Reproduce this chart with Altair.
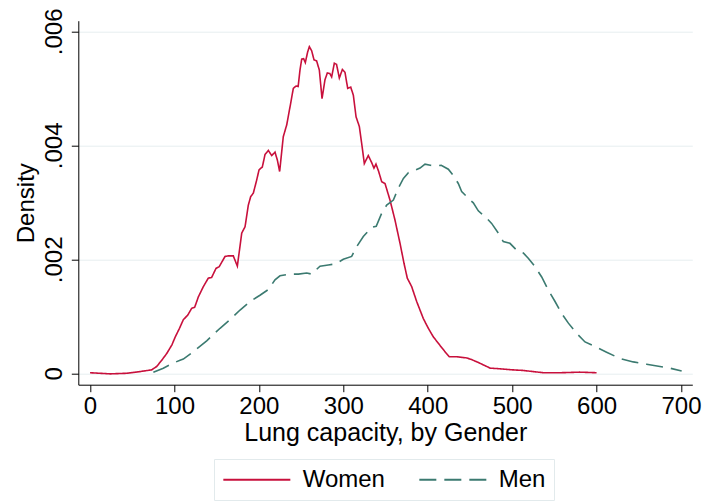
import altair as alt
import pandas as pd

# Women density curve (lung capacity, density x 1000)
women_x = [0, 12, 24, 43, 59, 73, 79, 85, 91, 97, 101, 106, 110.5, 115.7, 120.4, 124, 128.3,
           134.2, 140.1, 144, 149.2, 153, 159.9, 164, 169.7, 174.5, 179.7, 183.6, 187.5, 190.3,
           193.4, 197.4, 200.2, 204.1, 207.3, 211.2, 215.2, 219.1, 221.9, 224.6, 228.9, 233,
           237.7, 240.8, 244, 246.5, 248.7, 250.7, 253, 255, 257.8, 259.8, 262.5, 265.3, 268.4,
           271.6, 274.8, 278.3, 281.1, 284, 286.2, 289.4, 292, 295.3, 298.9, 302, 305.2, 308.8,
           311.9, 315.1, 319, 321.8, 324.9, 329.6, 333.5, 336.3, 338.7, 341.9, 345.5, 349.4,
           355.3, 361.2, 367.2, 371.9, 375.8, 381, 386.9, 394.8, 400.7, 406.6, 414.5, 420.4,
           425.6, 434.3, 446.1, 452, 459.9, 467, 474, 485, 501, 513, 525, 537, 557, 580, 600]
women_y = [0.01, 0.0, -0.01, 0.0, 0.03, 0.06, 0.12, 0.23, 0.35, 0.50, 0.64, 0.79, 0.94, 1.02,
           1.14, 1.16, 1.34, 1.52, 1.67, 1.68, 1.84, 1.87, 2.05, 2.06, 2.06, 1.88, 2.46, 2.57,
           2.95, 3.10, 3.16, 3.39, 3.57, 3.62, 3.84, 3.91, 3.82, 3.88, 3.74, 3.54, 4.15, 4.36,
           4.74, 5.00, 5.04, 5.03, 5.32, 5.51, 5.52, 5.45, 5.64, 5.73, 5.66, 5.50, 5.48, 5.32,
           4.82, 5.15, 5.27, 5.26, 5.20, 5.44, 5.42, 5.18, 5.33, 5.28, 5.00, 5.02, 4.88, 4.50,
           4.33, 4.03, 3.68, 3.82, 3.70, 3.60, 3.67, 3.54, 3.36, 3.33, 3.04, 2.69, 2.28, 1.93,
           1.67, 1.52, 1.26, 0.96, 0.79, 0.64, 0.49, 0.38, 0.29, 0.29, 0.27, 0.24, 0.19, 0.14,
           0.09, 0.08, 0.06, 0.05, 0.03, 0.01, 0.01, 0.02, 0.01]

# Men density curve (lung capacity, density x 1000)
men_x = [75, 86.8, 98.7, 106.6, 110.5, 122.4, 138.2, 154, 165.8, 177.7, 189.5, 201.3, 211.2,
         219.1, 225, 236.9, 246.7, 256.6, 262.5, 272.4, 282.2, 291, 300, 309.9, 315.8, 323.7,
         333.6, 339, 345.5, 351.4, 359.3, 365.2, 371.2, 377.1, 383, 390.9, 396.8, 403, 410.6,
         416, 424.4, 430.3, 436.2, 440.2, 448.1, 454, 459.9, 469.8, 475.7, 483.6, 489.5, 497.4,
         505.3, 513.2, 519.1, 527.1, 535, 542.9, 550.8, 558.7, 566.6, 576.4, 586.3, 598.1,
         611.9, 627.7, 643.5, 659.3, 675.1, 687, 700.8]
men_y = [0.02, 0.09, 0.18, 0.23, 0.25, 0.38, 0.57, 0.79, 0.94, 1.11, 1.26, 1.37, 1.47, 1.64,
         1.71, 1.74, 1.74, 1.76, 1.74, 1.88, 1.90, 1.92, 2.00, 2.05, 2.22, 2.40, 2.56, 2.58,
         2.81, 2.95, 3.04, 3.25, 3.42, 3.52, 3.55, 3.60, 3.67, 3.65, 3.64, 3.65, 3.58, 3.47,
         3.33, 3.19, 3.07, 2.99, 2.85, 2.72, 2.63, 2.46, 2.31, 2.28, 2.16, 2.11, 2.02, 1.87,
         1.69, 1.46, 1.26, 1.05, 0.88, 0.70, 0.55, 0.47, 0.37, 0.26, 0.20, 0.16, 0.12, 0.09,
         0.04]

groups = ["Women", "Men"]
colors = ["#c8103c", "#3b7a70"]
x_ticks = [0, 100, 200, 300, 400, 500, 600, 700]
y_ticks = [0, 0.002, 0.004, 0.006]

df = pd.concat([
    pd.DataFrame({"x": women_x, "y": [v / 1000 for v in women_y], "g": "Women"}),
    pd.DataFrame({"x": men_x, "y": [v / 1000 for v in men_y], "g": "Men"}),
])

FONT = "Liberation Sans"

legend = alt.Legend(
    title=None, orient="none", legendX=135.7, legendY=438.3, direction="horizontal",
    columns=2, columnPadding=30, padding=8, strokeColor="#e2eaec", fillColor="white",
    cornerRadius=0, symbolType="M-1,0H5", symbolSize=499, symbolStrokeWidth=2,
    symbolFillColor="transparent",
    labelFontSize=24, labelFont=FONT, labelColor="black", labelOffset=55.7,
    labelLimit=300,
)

chart = alt.Chart(df).mark_line(strokeWidth=1.6).encode(
    x=alt.X("x:Q", scale=alt.Scale(domain=[-13.9, 713.4], nice=False, zero=False),
            axis=alt.Axis(values=x_ticks, title="Lung capacity, by Gender", grid=False,
                          tickSize=7, labelBaseline="top", labelPadding=3,
                          titleX=307, titleY=56, titleBaseline="alphabetic",
                          titleFontSize=25, titleAnchor="middle")),
    y=alt.Y("y:Q", scale=alt.Scale(domain=[-0.0002, 0.006186], nice=False, zero=False),
            axis=alt.Axis(values=y_ticks, title="Density", grid=True, gridColor="#e6eef0",
                          tickSize=7, labelAngle=270, labelAlign="center",
                          labelBaseline="alphabetic", labelPadding=10,
                          labelExpr="datum.value == 0 ? '0' : replace(format(datum.value, '.3f'), '0.', '.')",
                          titleAngle=270, titleX=-45.3, titleY=182, titleAlign="center",
                          titleBaseline="alphabetic", titleFontSize=24)),
    color=alt.Color("g:N", scale=alt.Scale(domain=groups, range=colors), legend=legend),
    strokeDash=alt.StrokeDash("g:N", scale=alt.Scale(domain=groups, range=[[1, 0], [17, 8]]),
                              legend=legend),
).properties(
    width=614, height=364,
    autosize=alt.AutoSizeParams(type="none"),
    padding={"left": 78.3, "top": 20.7, "right": 13.7, "bottom": 117.3},
    background="white",
).configure_view(stroke=None).configure_axis(
    labelFont=FONT, titleFont=FONT, labelFontSize=24, labelColor="black", titleColor="black",
    domainColor="black", tickColor="black", domainWidth=1, tickWidth=1, titleFontWeight="normal",
)

chart.save("out.html", embed_options={"renderer": "svg", "actions": False})
